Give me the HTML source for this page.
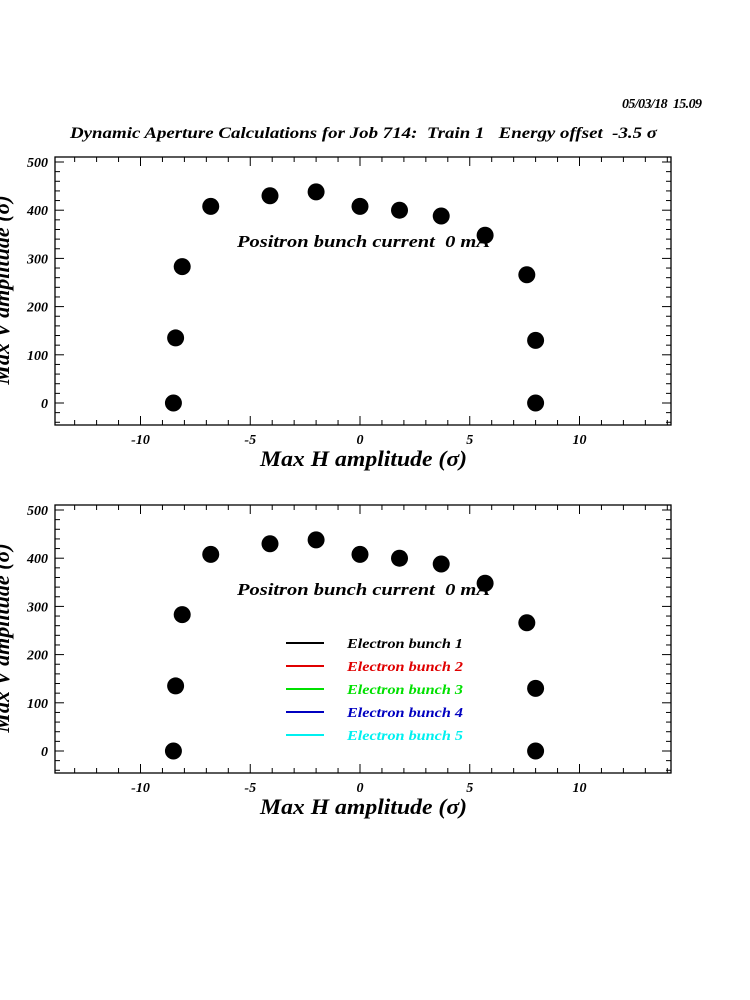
<!DOCTYPE html>
<html><head><style>body{margin:0;background:#fff}svg{display:block}text{white-space:pre}</style></head><body>
<svg id="s" width="750" height="1000" xmlns="http://www.w3.org/2000/svg" font-family="Liberation Serif, serif" font-weight="bold" font-style="italic">
<text x="622" y="108" font-size="14" textLength="80">05/03/18  15.09</text>
<text x="70" y="138" font-size="16" textLength="587" lengthAdjust="spacingAndGlyphs">Dynamic Aperture Calculations for Job 714:  Train 1   Energy offset  -3.5 σ</text>
<g id="legend">
<line x1="286" y1="643" x2="324" y2="643" stroke="#000" stroke-width="2"/><text x="347" y="648" font-size="14" fill="#000" textLength="116" lengthAdjust="spacingAndGlyphs">Electron bunch 1</text>
<line x1="286" y1="666" x2="324" y2="666" stroke="#e00000" stroke-width="2"/><text x="347" y="671" font-size="14" fill="#e00000" textLength="116" lengthAdjust="spacingAndGlyphs">Electron bunch 2</text>
<line x1="286" y1="689" x2="324" y2="689" stroke="#00e000" stroke-width="2"/><text x="347" y="694" font-size="14" fill="#00e000" textLength="116" lengthAdjust="spacingAndGlyphs">Electron bunch 3</text>
<line x1="286" y1="712" x2="324" y2="712" stroke="#0000c0" stroke-width="2"/><text x="347" y="717" font-size="14" fill="#0000c0" textLength="116" lengthAdjust="spacingAndGlyphs">Electron bunch 4</text>
<line x1="286" y1="735" x2="324" y2="735" stroke="#00f0f0" stroke-width="2"/><text x="347" y="740" font-size="14" fill="#00f0f0" textLength="116" lengthAdjust="spacingAndGlyphs">Electron bunch 5</text>
</g>
</svg>
<script>
const s=document.getElementById('s');const NS='http://www.w3.org/2000/svg';
function el(t,a,txt){const e=document.createElementNS(NS,t);for(const k in a)e.setAttribute(k,a[k]);if(txt!==undefined)e.textContent=txt;s.appendChild(e);return e;}
const pts=[[-8.5,0],[-8.4,135],[-8.1,283],[-6.8,408],[-4.1,430],[-2,438],[0,408],[1.8,400],[3.7,388],[5.7,348],[7.6,266],[8,130],[8,0]];
function plot(y0){
 const L=55,R=671,T=y0-246,B=y0+22;
 const X=v=>360+21.95*v, Y=v=>y0-0.482*v;
 el('rect',{x:L,y:T,width:R-L,height:B-T,fill:'none',stroke:'#000','stroke-width':1.3});
 for(let v=-13;v<=14;v++){const x=X(v);if(x<L||x>R)continue;const m=v%5===0;const h=m?9:5;
  el('line',{x1:x,y1:T,x2:x,y2:T+h,stroke:'#000'});el('line',{x1:x,y1:B,x2:x,y2:B-h,stroke:'#000'});
  if(m&&Math.abs(v)<=10)el('text',{x:x,y:B+19,'font-size':14,'text-anchor':'middle'},v);}
 for(let v=-40;v<=500;v+=20){const y=Y(v);const m=v%100===0;const h=m?9:5;
  el('line',{x1:L,y1:y,x2:L+h,y2:y,stroke:'#000'});el('line',{x1:R,y1:y,x2:R-h,y2:y,stroke:'#000'});
  if(m)el('text',{x:48,y:y+5,'font-size':14,'text-anchor':'end'},v);}
 el('text',{x:260,y:B+41,'font-size':22,textLength:207,lengthAdjust:'spacingAndGlyphs'},'Max H amplitude (σ)');
 el('text',{x:0,y:0,'font-size':22,'text-anchor':'middle',transform:`translate(9,${y0-113}) rotate(-90)`},'Max V amplitude (σ)');
 el('text',{x:237,y:y0-156,'font-size':17,textLength:253,lengthAdjust:'spacingAndGlyphs'},'Positron bunch current  0 mA');
 pts.forEach(p=>el('circle',{cx:X(p[0]),cy:Y(p[1]),r:8.5,fill:'#000'}));
}
plot(403);plot(751);
s.appendChild(document.getElementById('legend'));
</script>
</body></html>
